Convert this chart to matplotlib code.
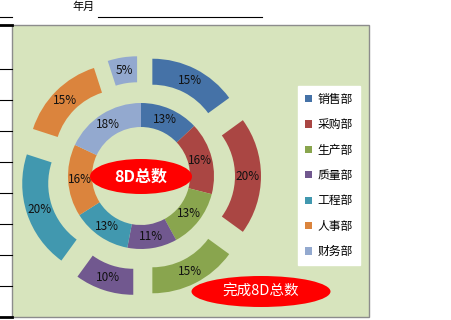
import matplotlib
matplotlib.use('Agg')
import matplotlib.pyplot as plt
from matplotlib.patches import Rectangle, Ellipse

plt.rcParams['font.family'] = ['Noto Sans CJK SC', 'DejaVu Sans']

# data
depts = ['销售部', '采购部', '生产部', '质量部', '工程部', '人事部', '财务部']
total_8d = [13, 16, 13, 11, 13, 16, 18]      # inner ring: 8D总数
done_8d = [15, 20, 15, 10, 20, 15, 5]        # outer ring: 完成8D总数
colors = ['#4572A7', '#AA4643', '#89A54E', '#71588F', '#4198AF', '#DB843D', '#93A9CF']

W, H = 452, 320
def py(y):
    # pixel row -> data y (origin bottom-left)
    return H - y

fig = plt.figure(figsize=(W / 100, H / 100), dpi=100)
ax = fig.add_axes([0, 0, 1, 1])

# spreadsheet bits around the chart
for y in [69, 100, 131, 162, 193, 224, 255, 286]:
    ax.plot([0, 12], [py(y), py(y)], color='black', lw=0.8)
ax.plot([0, 12], [py(24.5), py(24.5)], color='black', lw=2)
ax.plot([0, 12], [py(317), py(317)], color='black', lw=2)
ax.plot([0, 12.5], [py(16.5), py(16.5)], color='black', lw=0.8)
ax.plot([98, 262], [py(17), py(17)], color='black', lw=0.8)
ax.text(83.5, py(7), '年月', ha='center', va='center', fontsize=8, color='black')

# chart area
ax.add_patch(Rectangle((12, py(316.5)), 357, 292, facecolor='#D7E4BD',
                       edgecolor='#8C8C8C', lw=1, zorder=0))

cx, cy = 141, py(176)

outer, _, outer_txt = ax.pie(done_8d, colors=colors, radius=95, center=(cx, cy),
                             explode=[25] * len(done_8d), startangle=90,
                             counterclock=False, autopct='%.0f%%', pctdistance=0.863,
                             wedgeprops=dict(width=26, linewidth=0),
                             textprops=dict(fontsize=8.5, color='#111111'))
inner, _, inner_txt = ax.pie(total_8d, colors=colors, radius=73, center=(cx, cy),
                             startangle=90, counterclock=False, autopct='%.0f%%',
                             pctdistance=0.836,
                             wedgeprops=dict(width=24, linewidth=0),
                             textprops=dict(fontsize=8.5, color='#111111'))

# callouts
ax.add_patch(Ellipse((141, py(176.5)), 102, 35, facecolor='#FF0000', edgecolor='none', zorder=5))
ax.text(141, py(176.5), '8D总数', ha='center', va='center', color='white',
        fontsize=11.5, fontweight='bold', zorder=6)
ax.add_patch(Ellipse((261, py(291.5)), 139, 31, facecolor='#FF0000', edgecolor='none', zorder=5))
ax.text(261, py(291.5), '完成8D总数', ha='center', va='center', color='white',
        fontsize=10.5, zorder=6)

leg = ax.legend(outer, depts, loc='center', bbox_to_anchor=(329, py(175.5)),
                bbox_transform=ax.transData, fontsize=8.5, frameon=True,
                fancybox=False, facecolor='white', edgecolor='white', framealpha=1,
                handlelength=0.55, handleheight=0.55, handletextpad=0.5,
                labelspacing=1.05, borderpad=0.6)

ax.set_xlim(0, W)
ax.set_ylim(0, H)
ax.axis('off')

fig.savefig('out.png', dpi=100, facecolor='white')
